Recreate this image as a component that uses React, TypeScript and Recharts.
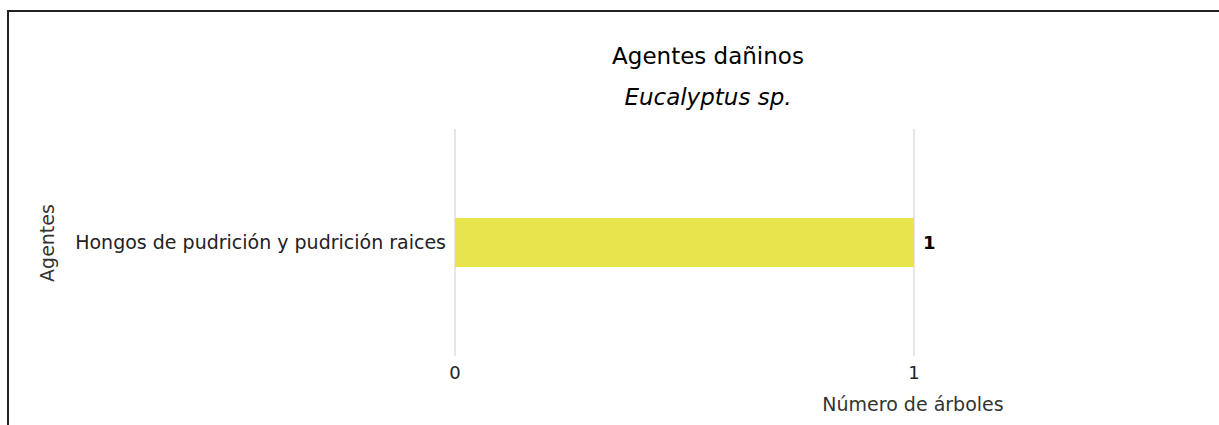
import React from 'react';
import { BarChart, Bar, XAxis, YAxis, CartesianGrid, LabelList } from 'recharts';

const categories = ['Hongos de pudrición y pudrición raices'];
const arboles = [1];
const xTicks = [0, 1];

const data = categories.map((name, i) => ({ name, value: arboles[i] }));

const FONT = '"DejaVu Sans", sans-serif';

const App: React.FC = () => {
  return (
    <div
      style={{
        position: 'fixed',
        left: 0,
        top: 0,
        width: 1219,
        height: 425,
        overflow: 'hidden',
        background: '#fff',
        fontFamily: FONT,
      }}
    >
      {/* frame around the chart */}
      <div
        style={{
          position: 'absolute',
          left: 7,
          top: 10,
          width: 1210,
          height: 440,
          borderTop: '2px solid #222',
          borderLeft: '2px solid #222',
          borderRight: '1px solid #888',
        }}
      />
      <div style={{ position: 'absolute', left: 0, top: 44, width: 1416, textAlign: 'center', fontSize: 23, lineHeight: '24px', color: '#000' }}>
        Agentes dañinos
      </div>
      <div style={{ position: 'absolute', left: 0, top: 85, width: 1416, textAlign: 'center', fontSize: 23, lineHeight: '24px', fontStyle: 'italic', color: '#000' }}>
        Eucalyptus sp.
      </div>
      <div style={{ position: 'absolute', left: 0, top: 0 }}>
        <BarChart
          width={1219}
          height={425}
          data={data}
          layout="vertical"
          margin={{ top: 129, right: 305, bottom: 0, left: 0 }}
        >
          <CartesianGrid horizontal={false} stroke="#cccccc" />
          <XAxis
            type="number"
            domain={[0, 1]}
            ticks={xTicks}
            axisLine={false}
            tickLine={false}
            tickSize={0}
            tickMargin={10}
            tick={{ fill: '#222', fontSize: 18, fontFamily: FONT }}
            height={69}
          />
          <YAxis
            type="category"
            dataKey="name"
            width={455}
            axisLine={false}
            tickLine={false}
            tickSize={0}
            tickMargin={9}
            tick={{ fill: '#222', fontSize: 19, fontFamily: FONT }}
          />
          <Bar dataKey="value" fill="#e8e54c" barSize={49} isAnimationActive={false}>
            <LabelList
              dataKey="value"
              position="right"
              offset={9}
              style={{ fill: '#000', fontWeight: 'bold', fontSize: 18, fontFamily: FONT }}
            />
          </Bar>
          <text
            x={47}
            y={243}
            transform="rotate(-90 47 243)"
            textAnchor="middle"
            dominantBaseline="central"
            fontSize={19}
            fontFamily={FONT}
            fill="#333"
          >
            Agentes
          </text>
          <text
            x={913}
            y={404}
            textAnchor="middle"
            dominantBaseline="central"
            fontSize={19}
            fontFamily={FONT}
            fill="#333"
          >
            Número de árboles
          </text>
        </BarChart>
      </div>
    </div>
  );
};

export default App;
